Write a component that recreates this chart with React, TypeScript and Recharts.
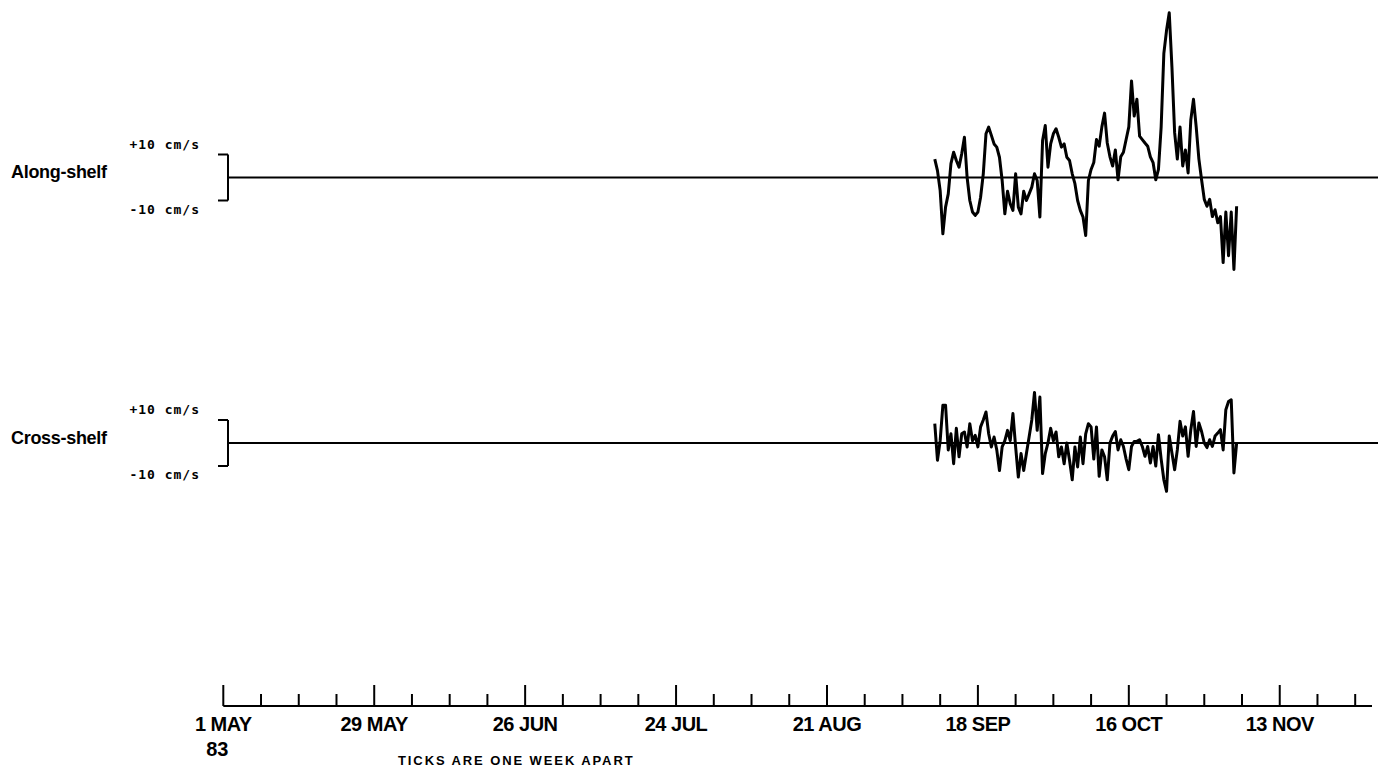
import { LineChart, Line, XAxis, YAxis, ReferenceLine } from 'recharts'

// current-meter records, sampled every half day from 10 Sep 1983 (day 132 after 1 May)
const START_DAY = 132
const STEP_DAY = 0.5

// along-shelf velocity, cm/s
const alongShelf = [
  8, 3, -5.7, -24.5, -12.9, -7.1, 6, 11, 7.4, 4.5, 10.3, 17.5, 0, -10, -15, -16.5, -15, -8.6, 1.6, 19,
  21.9, 18.3, 14.6, 13.2, 8.8, -1.3, -15.8, -6, -11.4, -14.3, 1.6, -12.9, -15.8, -6, -10, -7.1, -4.2, 1.6, -1.3, -17.2,
  16.1, 22.6, 4.5, 14.6, 19, 21.2, 17.5, 13.2, 14.6, 8.8, 7.4, 1.6, -2.7, -10, -14.3, -17.2, -25.2, -1.3, 3.5, 6.5,
  16.5, 13.6, 22, 28, 15, 9, 5, 12, -1, 9, 11, 16.5, 22, 42, 26.7, 34, 18, 16.5, 15, 13.6,
  9, 6.5, -1, 3.5, 22, 54, 64, 71.6, 48, 19.5, 8, 22, 5, 12, 2, 25, 34, 22, 8, -1,
  -9.5, -12.5, -9.5, -17, -14, -19.7, -17, -37, -15, -34, -15, -40, -12.5,
]

// cross-shelf velocity, cm/s
const crossShelf = [
  8.4, -7.5, 1, 16.4, 16.4, -3, 4, -9, 6.4, -6, 4, 4.8, -1.7, 8.4, 1, 3.3, -1.7, 7, 10, 13.5,
  4, -1.7, 2.6, -3, -12, -1.7, 1, 5.5, 1, 12.8, -1.7, -14.8, -4.6, -12, -4.6, 2.6, 10, 22, 5.5, 20,
  -13.3, -4.6, 0, 6.4, 1, 4.8, -6, -1.7, -9, 0, -7.5, -16, -1.7, -10.4, 2.6, -9, 4, 8.4, 7, -7,
  7, -14.5, -3, -6, -16, 0, 3, 5, -3, 1.4, -1.5, -7, -11.6, -1.5, 0.7, 0.7, 1.4, -1.5, -5.8, -1.5,
  -8.7, -1.5, -10, 3.6, -7, -16, -21, 3, -4.3, -11.6, -3, 9.4, 3, 7, -5.8, 5.8, 13.7, -1.5, 8.7, 5,
  0, -2, 1.4, -1.5, 3, 4.3, 5.8, -3, 14.5, 18, 18.8, -13, 0,
]

const weekTicks = [
  0, 7, 14, 21, 28, 35, 42, 49, 56, 63, 70, 77, 84, 91, 98, 105, 112, 119, 126, 133, 140, 147, 154, 161, 168,
  175, 182, 189, 196, 203, 210,
]
const monthTicks = [0, 28, 56, 84, 112, 140, 168, 196]
const monthLabels = ['1 MAY', '29 MAY', '26 JUN', '24 JUL', '21 AUG', '18 SEP', '16 OCT', '13 NOV']
const YEAR_LABEL = '83'
const scaleTicks = [-10, 10]
const scaleLabels = ['-10 cm/s', '+10 cm/s']

const data = alongShelf.map((v, i) => ({
  day: START_DAY + i * STEP_DAY,
  along: v,
  cross: crossShelf[i],
}))

/* ----------  geometry  ---------- */
const W = 1378
const H = 768
const AXIS_LEFT = 223.3 // 1 May
const AXIS_RIGHT = 1372
const AXIS_Y = 706
const PANEL_LEFT = 228
const PX_PER_DAY = 5.39
const PX_PER_CMS = 2.3

const LABEL_FONT = '"Liberation Sans", Arial, sans-serif'
const MONO_FONT = '"DejaVu Sans Mono", monospace'

function ScaleTick(props: any) {
  const { x, y, payload } = props
  const i = scaleTicks.indexOf(payload.value)
  const up = payload.value > 0
  return (
    <g>
      <line x1={x - 10} x2={x} y1={y} y2={y} stroke="#000" strokeWidth={2} />
      <text
        x={x - 28}
        y={up ? y - 6 : y + 13}
        textAnchor="end"
        fontFamily={MONO_FONT}
        fontWeight="bold"
        fontSize={13}
        letterSpacing={1}
        fill="#000"
      >
        {scaleLabels[i]}
      </text>
    </g>
  )
}

function WeekTick(props: any) {
  const { x, y, payload } = props
  const idx = monthTicks.indexOf(payload.value)
  const major = idx >= 0
  return (
    <g>
      <line x1={x} x2={x} y1={y} y2={y - (major ? 21 : 12)} stroke="#000" strokeWidth={2} />
      {major && (
        <text
          x={x}
          y={y + 25}
          textAnchor="middle"
          fontFamily={LABEL_FONT}
          fontWeight="bold"
          fontSize={20}
          letterSpacing={-0.5}
          fill="#000"
        >
          {monthLabels[idx]}
        </text>
      )}
      {payload.value === 0 && (
        <text
          x={x - 6}
          y={y + 50}
          textAnchor="middle"
          fontFamily={LABEL_FONT}
          fontWeight="bold"
          fontSize={20}
          fill="#000"
        >
          {YEAR_LABEL}
        </text>
      )}
    </g>
  )
}

interface PanelProps {
  dataKey: string
  label: string
  zeroY: number
  min: number
  max: number
}

function Panel({ dataKey, label, zeroY, min, max }: PanelProps) {
  const height = (max - min) * PX_PER_CMS
  const top = zeroY - max * PX_PER_CMS
  const d0 = (PANEL_LEFT - AXIS_LEFT) / PX_PER_DAY
  const d1 = d0 + (W - PANEL_LEFT) / PX_PER_DAY
  return (
    <>
      <div
        style={{
          position: 'absolute',
          left: 11,
          top: zeroY + 1 - 15.2,
          fontFamily: LABEL_FONT,
          fontWeight: 'bold',
          fontSize: 18,
          lineHeight: '18px',
          letterSpacing: -0.3,
          whiteSpace: 'nowrap',
        }}
      >
        {label}
      </div>
      <div style={{ position: 'absolute', left: 0, top }}>
        <LineChart width={W} height={height} data={data} margin={{ top: 0, right: 0, bottom: 0, left: 0 }}>
          <XAxis type="number" dataKey="day" domain={[d0, d1]} hide />
          <YAxis
            type="number"
            domain={[min, max]}
            ticks={scaleTicks}
            interval={0}
            width={PANEL_LEFT}
            axisLine={false}
            tickLine={false}
            tickSize={0}
            tickMargin={0}
            tick={<ScaleTick />}
          />
          <ReferenceLine y={0} stroke="#000" strokeWidth={2} />
          <ReferenceLine
            segment={[
              { x: d0, y: -10 },
              { x: d0, y: 10 },
            ]}
            stroke="#000"
            strokeWidth={2}
            ifOverflow="visible"
          />
          <Line
            type="linear"
            dataKey={dataKey}
            stroke="#000"
            strokeWidth={3}
            strokeLinejoin="round"
            dot={false}
            isAnimationActive={false}
          />
        </LineChart>
      </div>
    </>
  )
}

export default function App() {
  const axisPlotH = 106
  const axisLabelH = H - AXIS_Y
  return (
    <div
      style={{
        position: 'absolute',
        left: 0,
        top: 0,
        width: W,
        height: H,
        background: '#fff',
        overflow: 'hidden',
      }}
    >
      <Panel dataKey="along" label="Along-shelf" zeroY={177} min={-50} max={75} />
      <Panel dataKey="cross" label="Cross-shelf" zeroY={443} min={-30} max={30} />

      <div style={{ position: 'absolute', left: 0, top: AXIS_Y - axisPlotH }}>
        <LineChart
          width={W}
          height={axisPlotH + axisLabelH}
          data={data}
          margin={{ top: 0, right: W - AXIS_RIGHT, bottom: 0, left: AXIS_LEFT }}
        >
          <XAxis
            type="number"
            dataKey="day"
            domain={[0, (AXIS_RIGHT - AXIS_LEFT) / PX_PER_DAY]}
            ticks={weekTicks}
            interval={0}
            height={axisLabelH}
            axisLine={{ stroke: '#000', strokeWidth: 2 }}
            tickLine={false}
            tickSize={0}
            tickMargin={0}
            tick={<WeekTick />}
          />
          <YAxis hide />
        </LineChart>
      </div>

      <div
        style={{
          position: 'absolute',
          left: 398,
          top: 754,
          fontFamily: LABEL_FONT,
          fontWeight: 'bold',
          fontSize: 13,
          lineHeight: '13px',
          letterSpacing: 1.9,
          whiteSpace: 'nowrap',
        }}
      >
        TICKS ARE ONE WEEK APART
      </div>
    </div>
  )
}
